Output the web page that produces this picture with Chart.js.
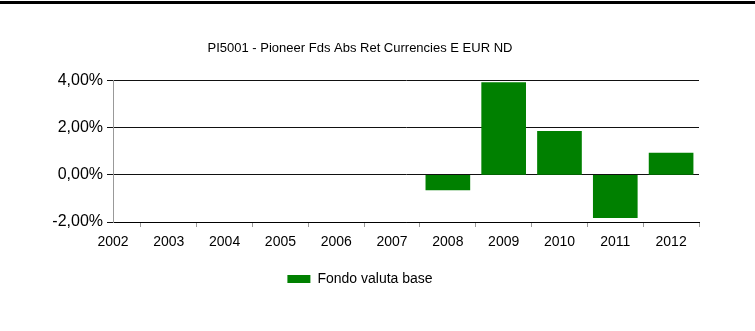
<!DOCTYPE html>
<html>
<head>
<meta charset="utf-8">
<script src="https://cdn.jsdelivr.net/npm/chart.js@4/dist/chart.umd.min.js"></script>
<style>
  html, body { margin: 0; padding: 0; background: #fff; }
  #wrap { position: relative; width: 755px; height: 331px; }
  #topline { position: absolute; left: 0; top: 1px; width: 755px; height: 3px; background: #000; }
  canvas { position: absolute; left: 0; top: 0; }
</style>
</head>
<body>
<div id="wrap">
  <canvas id="c" width="755" height="331"></canvas>
  <div id="topline"></div>
</div>
<script>
const chartTitle = 'PI5001 - Pioneer Fds Abs Ret Currencies E EUR ND';
const seriesName = 'Fondo valuta base';
const years = [2002, 2003, 2004, 2005, 2006, 2007, 2008, 2009, 2010, 2011, 2012];
const fundValues = [null, null, null, null, null, null, -0.64, 3.92, 1.85, -1.82, 0.92];
const yTicks = [-2, 0, 2, 4];

const fmt = v => v.toFixed(2).replace('.', ',') + '%';
const points = years.map((y, i) => ({ x: y, y: fundValues[i] })).filter(p => p.y !== null);

Chart.defaults.font.family = '"Liberation Sans", Arial, sans-serif';
Chart.defaults.color = '#000';

new Chart(document.getElementById('c'), {
  type: 'bar',
  data: {
    datasets: [{
      label: seriesName,
      data: points,
      backgroundColor: '#008000',
      borderWidth: 0,
      barThickness: 44
    }]
  },
  options: {
    responsive: false,
    animation: false,
    layout: { padding: { left: 21, right: 56, top: 0, bottom: 35 } },
    plugins: {
      title: {
        display: true,
        text: chartTitle,
        color: '#000',
        font: { size: 13, weight: 'normal' },
        padding: { top: 41, bottom: 24 }
      },
      legend: {
        display: true,
        position: 'bottom',
        labels: {
          boxWidth: 23,
          boxHeight: 8,
          font: { size: 14 },
          color: '#000',
          padding: 10
        }
      },
      tooltip: { enabled: false }
    },
    scales: {
      x: {
        type: 'linear',
        min: 2002,
        max: 2012.5,
        offset: false,
        afterBuildTicks: s => { s.ticks = years.map(v => ({ value: v })); },
        ticks: {
          callback: v => String(v),
          font: { size: 14 },
          color: '#000',
          padding: 7,
          maxRotation: 0,
          autoSkip: false
        },
        grid: { drawOnChartArea: false, drawTicks: true, tickLength: 5, color: '#999' },
        border: { display: true, color: '#000', width: 1 },
        afterFit: s => { s.height = 40; }
      },
      y: {
        min: -2,
        max: 4,
        afterBuildTicks: s => { s.ticks = yTicks.map(v => ({ value: v })); },
        ticks: {
          callback: v => fmt(v),
          font: { size: 16 },
          color: '#000',
          padding: 4
        },
        grid: { color: '#111', lineWidth: 1, tickLength: 6 },
        border: { display: true, color: '#999', width: 1 },
        afterFit: s => { s.width = 92; }
      }
    }
  }
});
</script>
</body>
</html>
